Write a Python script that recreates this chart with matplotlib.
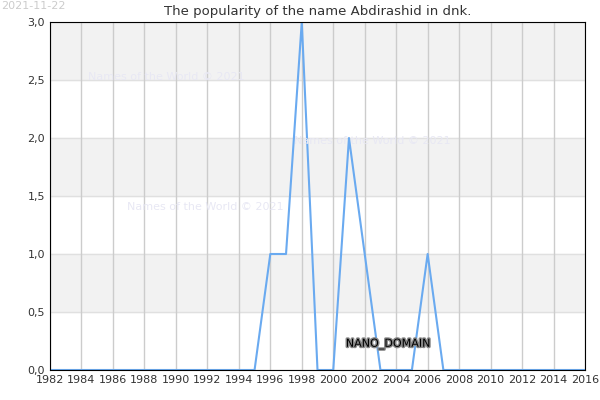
import matplotlib
matplotlib.use("Agg")
import matplotlib.pyplot as plt
import matplotlib.patheffects as pe

years = list(range(1982, 2017))
values = [0]*13 + [0, 1, 1, 3, 0, 0, 2, 1, 0, 0, 0, 1, 0] + [0]*9
xticks = list(range(1982, 2017, 2))
yticks = [0, 0.5, 1.0, 1.5, 2.0, 2.5, 3.0]

fig = plt.figure(figsize=(6, 4), dpi=100)
ax = fig.add_axes([50/600, 30/400, 535/600, 348/400])
for lo in [0.5, 1.5, 2.5]:
    ax.axhspan(lo, lo+0.5, color="#f2f2f2", zorder=0)
for y in yticks:
    ax.axhline(y, color="#e0e0e0", lw=1, zorder=0.5)
for x in xticks:
    ax.axvline(x, color="#cccccc", lw=1, zorder=0.5)
ax.plot(years, values, color="#6aaaf0", lw=1.5, zorder=2)
ax.set_xlim(1982, 2016)
ax.set_ylim(0, 3)
ax.set_xticks(xticks)
ax.set_yticks(yticks)
ax.set_yticklabels([f"{v:.1f}".replace(".", ",") for v in yticks])
ax.tick_params(labelsize=8, length=0, colors="#333333")
for s in ax.spines.values():
    s.set_color("black")
ax.set_title("The popularity of the name Abdirashid in dnk.", fontsize=9.5, color="#333333", pad=5)
fig.text(0.002, 0.997, "2021-11-22", fontsize=8, color="#cccccc", va="top")
wm = "#e8e8f4"
ax.text(1984.4, 2.5, "Names of the World © 2021", fontsize=8, color=wm)
ax.text(1997.5, 1.95, "Names of the World © 2021", fontsize=8, color=wm)
ax.text(1986.9, 1.38, "Names of the World © 2021", fontsize=8, color=wm)
ax.text(2000.8, 0.2, "NANO_DOMAIN", fontsize=8, color="black",
        path_effects=[pe.withStroke(linewidth=2, foreground="#888888")], zorder=3)
fig.savefig("out.png")
